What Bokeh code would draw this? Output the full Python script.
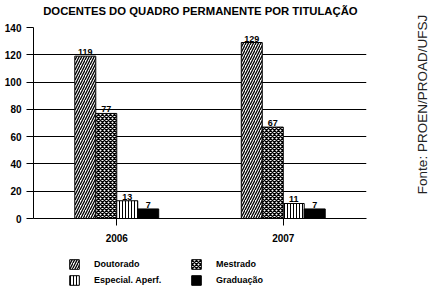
from bokeh.plotting import figure
from bokeh.layouts import row, column
from bokeh.models import (ColumnDataSource, FactorRange, Range1d, FixedTicker, Legend,
                          LegendItem)
from bokeh.transform import dodge
from bokeh.core.properties import value
from bokeh.embed import file_html
from bokeh.resources import INLINE

# ---- data ----
years = ["2006", "2007"]
categories = ["Doutorado", "Mestrado", "Especial. Aperf.", "Graduação"]
doutorado = [119, 129]
mestrado = [77, 67]
especial = [13, 11]
graduacao = [7, 7]
y_ticks = [0, 20, 40, 60, 80, 100, 120, 140]
title_text = "DOCENTES DO QUADRO PERMANENTE POR TITULAÇÃO"
source_text = "Fonte: PROEN/PROAD/UFSJ"

series = [doutorado, mestrado, especial, graduacao]

FONT = "Liberation Sans"


def strip(w, h):
    f = figure(width=w, height=h, x_range=Range1d(0, w), y_range=Range1d(0, h),
               title=None, output_backend="svg", toolbar_location=None,
               min_border=0, min_border_left=0, min_border_right=0,
               min_border_top=0, min_border_bottom=0)
    f.axis.visible = False
    f.grid.visible = False
    f.outline_line_color = None
    return f


# ---- title strip ----
T = strip(400, 20)
T.text(x=[200.5], y=[9.5], text=[title_text], text_align="center", text_baseline="middle",
       text_font=value(FONT), text_font_style="bold", text_font_size="11.3px",
       text_color="black")

# ---- main chart ----
p = figure(x_range=FactorRange(*years, range_padding=0), y_range=Range1d(0, 140),
           width=400, height=230, title=None, output_backend="svg", toolbar_location=None,
           min_border_left=33, min_border_right=34, min_border_top=7, min_border_bottom=32)
p.outline_line_color = None
p.xgrid.grid_line_color = None
p.ygrid.grid_line_color = "black"
p.ygrid.grid_line_width = 1
p.ygrid.ticker = FixedTicker(ticks=y_ticks)

p.yaxis.ticker = FixedTicker(ticks=y_ticks)
p.yaxis.axis_line_color = "black"
p.yaxis.major_tick_out = 7
p.yaxis.major_tick_in = 0
p.yaxis.minor_tick_line_color = None
p.yaxis.major_label_text_font = FONT
p.yaxis.major_label_text_font_style = "bold"
p.yaxis.major_label_text_font_size = "10px"
p.yaxis.major_label_text_color = "black"
p.yaxis.major_label_standoff = 5

p.xaxis.axis_line_color = "black"
p.xaxis.major_tick_out = 7
p.xaxis.major_tick_in = 0
p.xaxis.major_label_text_font = FONT
p.xaxis.major_label_text_font_style = "bold"
p.xaxis.major_label_text_font_size = "10px"
p.xaxis.major_label_text_color = "black"
p.xaxis.major_label_standoff = 8

styles = [
    dict(fill_color="white", hatch_pattern="right_diagonal_line", hatch_color="black",
         hatch_scale=5, hatch_weight=1.3),
    dict(fill_color="white", hatch_pattern="diagonal_cross", hatch_color="black",
         hatch_scale=4, hatch_weight=1.4),
    dict(fill_color="white", hatch_pattern="vertical_line", hatch_color="black",
         hatch_scale=3, hatch_weight=1),
    dict(fill_color="black"),
]

bw = 0.126
offsets = [-1.5 * bw, -0.5 * bw, 0.5 * bw, 1.5 * bw]
for name, vals, off, st in zip(categories, series, offsets, styles):
    src = ColumnDataSource(dict(year=years, val=vals, lab=[str(v) for v in vals]))
    p.vbar(x=dodge("year", off, range=p.x_range), top="val", bottom=0, width=bw,
           source=src, line_color="black", line_width=1, **st)
    p.text(x=dodge("year", off, range=p.x_range), y="val", text="lab", source=src,
           text_align="center", text_baseline="bottom", y_offset=-1,
           text_font=value(FONT), text_font_style="bold", text_font_size="9px",
           text_color="black")

# ---- legend strip ----
L = strip(400, 37)
items = []
for name, st in zip(categories, styles):
    proxy = L.vbar(x=[-50], top=[-50], bottom=[-60], width=1,
                   line_color="black", line_width=1, **st)
    items.append(LegendItem(label=name, renderers=[proxy]))

legend = Legend(items=items, location=(35, -1), orientation="horizontal", ncols=2,
                glyph_width=12, glyph_height=12, label_standoff=14, label_width=96,
                label_height=16, spacing=0, padding=0, margin=0,
                border_line_color=None, background_fill_alpha=0,
                label_text_font=FONT, label_text_font_style="bold",
                label_text_font_size="9px", label_text_color="black")
L.add_layout(legend, "center")

# ---- side strip with the rotated source note ----
Q = strip(33, 287)
Q.text(x=[22], y=[183], text=[source_text], angle=1.5708,
       text_align="center", text_baseline="middle",
       text_font=value(FONT), text_font_size="13.5px", text_color="#222222")

layout = row(column(T, p, L, spacing=0), Q, spacing=0)
open("out.html", "w").write(file_html(layout, INLINE))
